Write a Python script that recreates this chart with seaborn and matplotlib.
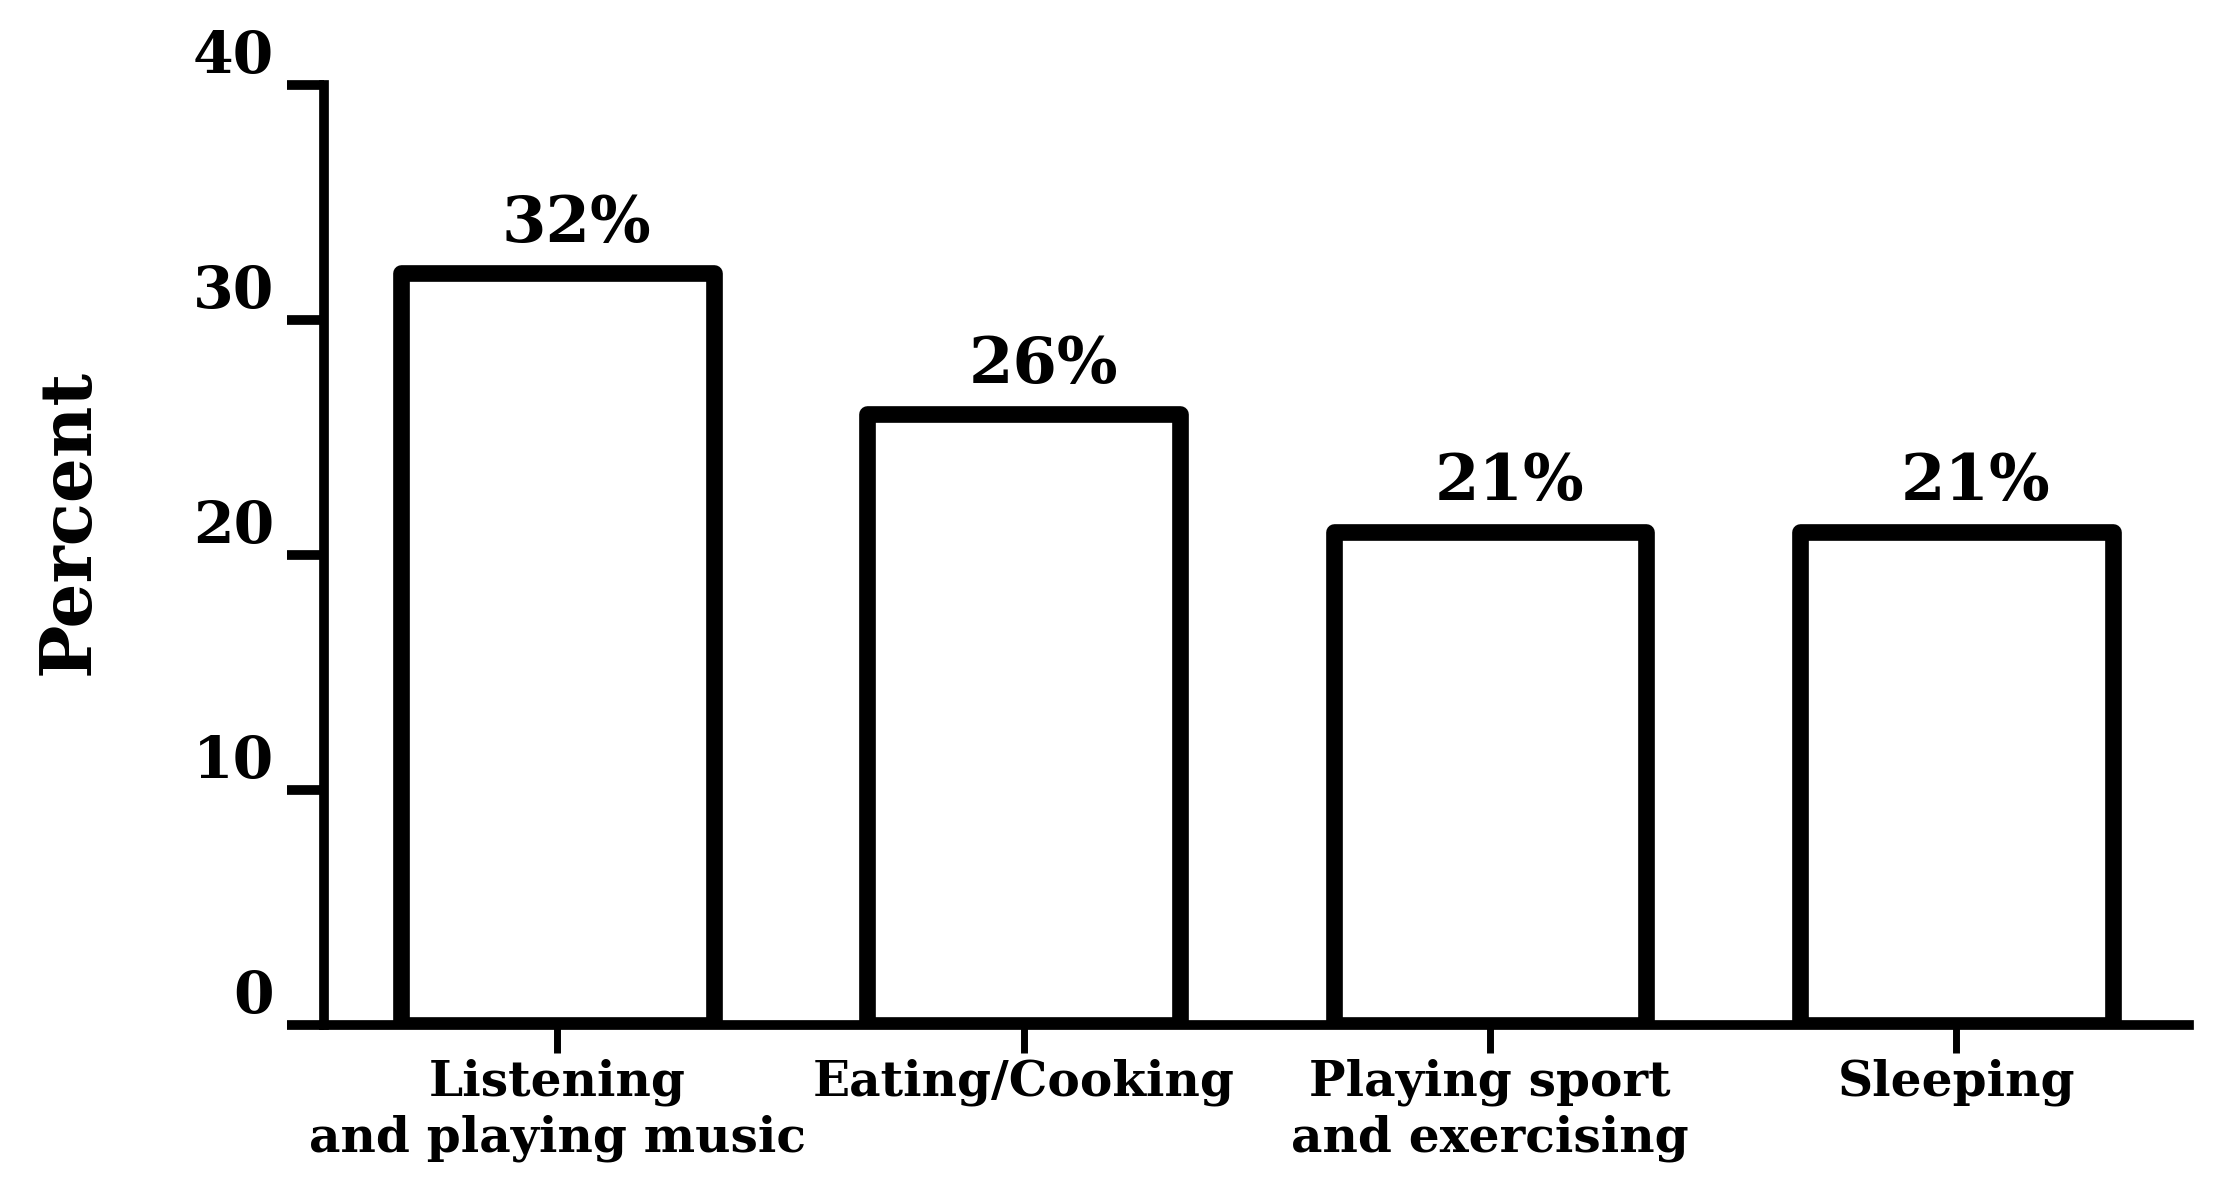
import numpy as np
import pandas as pd
import seaborn as sns
import matplotlib.pyplot as plt

activities = ["Listening\nand playing music", "Eating/Cooking",
              "Playing sport\nand exercising", "Sleeping"]
percent = [32, 26, 21, 21]
bar_text = ["32%", "26%", "21%", "21%"]
y_ticks = [0, 10, 20, 30, 40]

df = pd.DataFrame({"activity": activities, "percent": percent})

sns.set_style("ticks")
plt.rcParams['font.family'] = ['DejaVu Serif']
plt.rcParams['font.weight'] = 'bold'
plt.rcParams['text.color'] = 'black'
plt.rcParams['xtick.color'] = 'black'
plt.rcParams['ytick.color'] = 'black'
plt.rcParams['axes.labelcolor'] = 'black'
plt.rcParams['axes.edgecolor'] = 'black'

fig = plt.figure(figsize=(22.26, 12), dpi=100)
ax = fig.add_axes([0.1456, 0.146, 0.838, 0.783])

sns.barplot(data=df, x="activity", y="percent", color="white",
            edgecolor="black", linewidth=12, width=0.67, ax=ax,
            saturation=1)
for p in ax.patches:
    p.set_joinstyle("round")

labels = ax.bar_label(ax.containers[0], labels=bar_text, padding=13,
                      fontsize=46, fontweight="bold")
for t in labels:
    t.xyann = (14, 13)  # labels sit a bit right of centre in the original

ax.set_xlim(-0.5, 3.5)
ax.set_ylim(0, 40)
ax.set_yticks(y_ticks)
ax.set_xlabel("")
ax.set_ylabel("Percent", fontsize=51, fontweight="bold")
ax.yaxis.set_label_coords(-0.118, 0.535)

for s in ["top", "right"]:
    ax.spines[s].set_visible(False)
ax.spines["left"].set_linewidth(7)
ax.spines["bottom"].set_linewidth(7)
ax.spines["left"].set_capstyle("projecting")

ax.tick_params(axis="y", length=27, width=7, pad=9, labelsize=42)
ax.tick_params(axis="x", length=20, width=5, pad=4, labelsize=35)
for t in ax.get_yticklabels():
    t.set_verticalalignment("bottom")
    t.set_fontweight("bold")
for t in ax.get_xticklabels():
    t.set_fontweight("bold")
    t.set_linespacing(1.25)

fig.savefig("out.png", dpi=100, facecolor="white")
